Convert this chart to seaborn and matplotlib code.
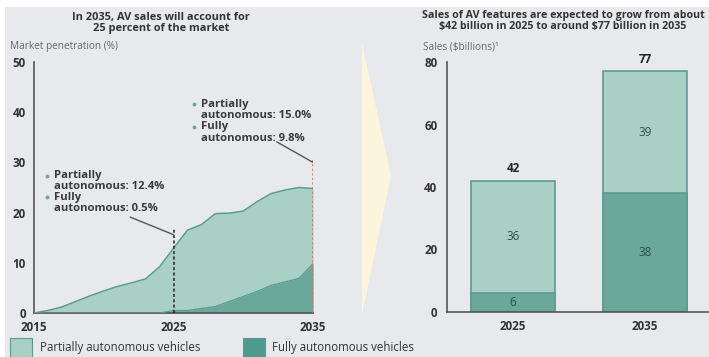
import numpy as np
import pandas as pd
import matplotlib
matplotlib.use("Agg")
import matplotlib.pyplot as plt
from matplotlib.patches import Rectangle, Polygon
import seaborn as sns

# ---------------- data ----------------
years = [2015, 2016, 2017, 2018, 2019, 2020, 2021, 2022, 2023, 2024, 2025,
         2026, 2027, 2028, 2029, 2030, 2031, 2032, 2033, 2034, 2035]
total_share = [0, 0.5, 1.2, 2.3, 3.4, 4.4, 5.3, 6.0, 6.8, 9.2, 12.9,
               16.5, 17.6, 19.8, 19.9, 20.3, 22.2, 23.8, 24.5, 25.0, 24.8]
full_share = [0, 0, 0, 0, 0, 0, 0, 0, 0, 0, 0.5,
              0.5, 0.9, 1.3, 2.3, 3.3, 4.3, 5.5, 6.2, 6.9, 9.8]

bar_years = ["2025", "2035"]
bar_full = [6, 38]
bar_partial = [36, 39]
bar_total = [42, 77]

left_ticks_x = [2015, 2025, 2035]
left_ticks_y = [0, 10, 20, 30, 40, 50]
right_ticks_y = [0, 20, 40, 60, 80]

# ---------------- style ----------------
BG = "#e8e9ec"
LIGHT = "#aacfc4"
DARK = "#6aa899"
EDGE = "#5b9b93"
TXT = "#333333"
GREY = "#666666"
sns.set_theme(style="white")
plt.rcParams["font.family"] = ["Open Sans", "DejaVu Sans"]

W, H = 709, 357
fig = plt.figure(figsize=(W / 100, H / 100), dpi=100)
fig.patch.set_facecolor("white")
fig.add_artist(Rectangle((5 / W, 0), 1, 1 - 7 / H, transform=fig.transFigure,
                         facecolor=BG, edgecolor="none", zorder=-10))

def fx(px):
    return px / W

def fy(py):
    return 1 - py / H

# chevron
fig.add_artist(Polygon([(fx(362), fy(43)), (fx(391), fy(176)), (fx(362), fy(315))],
                       closed=True, transform=fig.transFigure,
                       facecolor="#fdf4dc", edgecolor="none", zorder=-5))

# ---------------- left: area chart ----------------
axL = fig.add_axes([fx(34), fy(313), fx(313) - fx(34), fy(62) - fy(313)])
axL.set_facecolor("none")
df = pd.DataFrame({"year": years, "total": total_share, "full": full_share})
axL.fill_between(df["year"], 0, df["total"], color=LIGHT, lw=0, zorder=1)
axL.fill_between(df["year"], 0, df["full"], color=DARK, lw=0, zorder=2)
sns.lineplot(data=df, x="year", y="total", ax=axL, color=EDGE, lw=1.1, zorder=3)
sns.lineplot(data=df, x="year", y="full", ax=axL, color=EDGE, lw=0.9, zorder=3)
axL.set_xlim(2015, 2035)
axL.set_ylim(0, 50)
axL.set_xticks(left_ticks_x)
axL.set_yticks(left_ticks_y)
axL.set_xlabel("")
axL.set_ylabel("")
for s in ["top", "right"]:
    axL.spines[s].set_visible(False)
for s in ["left", "bottom"]:
    axL.spines[s].set_color("#555555")
    axL.spines[s].set_linewidth(1.2)
axL.tick_params(axis="both", length=0, labelsize=8.4, colors=TXT)
axL.tick_params(axis="x", pad=6)
axL.tick_params(axis="y", pad=6)
for lab in axL.get_xticklabels() + axL.get_yticklabels():
    lab.set_fontweight("bold")

# marker lines
axL.plot([2025, 2025], [0, 16.7], color="#222222", lw=1.1, ls=(0, (2, 1.5)), zorder=4)
axL.plot([2035, 2035], [0, 30.5], color="#e0665a", lw=1.1, ls=(0, (1.5, 1.5)), zorder=4)
axL.plot([2021.9, 2025], [19.1, 15.6], color="#555555", lw=1, zorder=4)
axL.plot([2032.4, 2035], [34.1, 30.0], color="#555555", lw=1, zorder=4)

def bullet_block(ax, xb, xt, ys, lines):
    for (bul, txt), y in zip(lines, ys):
        if bul:
            ax.plot([xb], [y], marker="o", ms=2.8, color=DARK, mec="none", zorder=5)
        ax.text(xt, y, txt, color="#3a3a3a", fontsize=8.1, va="center", ha="left",
                fontweight="bold")

bullet_block(axL, 2015.9, 2016.4, [27.3, 25.1, 23.1, 20.9],
             [(True, "Partially"), (False, "autonomous: 12.4%"),
              (True, "Fully"), (False, "autonomous: 0.5%")])
bullet_block(axL, 2026.45, 2026.95, [41.6, 39.4, 37.1, 34.7],
             [(True, "Partially"), (False, "autonomous: 15.0%"),
              (True, "Fully"), (False, "autonomous: 9.8%")])

fig.text(fx(161), fy(23), "In 2035, AV sales will account for\n25 percent of the market",
         ha="center", va="center", fontsize=7.9, fontweight="bold", color=TXT,
         linespacing=1.1)
fig.text(fx(10), fy(47), "Market penetration (%)", ha="left", va="center",
         fontsize=7.2, color=GREY)

# ---------------- right: stacked bars ----------------
axR = fig.add_axes([fx(447), fy(312), fx(711) - fx(447), fy(62) - fy(312)])
axR.set_facecolor("none")
bdf = pd.DataFrame({"year": bar_years, "total": bar_total, "full": bar_full,
                    "partial": bar_partial})
sns.barplot(data=bdf, x="year", y="total", ax=axR, color=LIGHT, width=0.64,
            edgecolor=EDGE, linewidth=1.2, saturation=1)
sns.barplot(data=bdf, x="year", y="full", ax=axR, color=DARK, width=0.64,
            edgecolor=EDGE, linewidth=1.2, saturation=1)
axR.set_xlim(-0.5, 1.5)
axR.set_ylim(0, 80)
axR.set_yticks(right_ticks_y)
axR.set_xlabel("")
axR.set_ylabel("")
for s in ["top", "right"]:
    axR.spines[s].set_visible(False)
for s in ["left", "bottom"]:
    axR.spines[s].set_color("#555555")
    axR.spines[s].set_linewidth(1.2)
axR.tick_params(axis="both", length=0, labelsize=8.4, colors=TXT)
axR.tick_params(axis="y", pad=7)
axR.tick_params(axis="x", pad=6)
for lab in axR.get_xticklabels() + axR.get_yticklabels():
    lab.set_fontweight("bold")

for i, (f, p, t) in enumerate(zip(bar_full, bar_partial, bar_total)):
    axR.text(i, f / 2, str(f), ha="center", va="center", fontsize=8.4, color="#2f4f4a")
    axR.text(i, f + p / 2, str(p), ha="center", va="center", fontsize=8.4, color="#2f4f4a")
    axR.text(i, t + 3.8, str(t), ha="center", va="center", fontsize=8.4,
             fontweight="bold", color="#222222")

fig.text(fx(563), fy(21), "Sales of AV features are expected to grow from about\n"
         "\\$42 billion in 2025 to around \\$77 billion in 2035",
         ha="center", va="center", fontsize=7.7, fontweight="bold", color=TXT,
         linespacing=1.1)
fig.text(fx(423), fy(47), "Sales (\\$billions)\u00b9", ha="left", va="center",
         fontsize=7.2, color=GREY)

# ---------------- legend ----------------
fig.add_artist(Rectangle((fx(10), fy(357)), fx(32) - fx(10), fy(338) - fy(357),
                         transform=fig.transFigure, facecolor=LIGHT, edgecolor=EDGE, lw=0.8))
fig.text(fx(40), fy(348), "Partially autonomous vehicles", ha="left", va="center",
         fontsize=8.3, color=TXT)
fig.add_artist(Rectangle((fx(243), fy(357)), fx(265) - fx(243), fy(338) - fy(357),
                         transform=fig.transFigure, facecolor="#4e9a8c", edgecolor=EDGE, lw=0.8))
fig.text(fx(272), fy(348), "Fully autonomous vehicles", ha="left", va="center",
         fontsize=8.3, color=TXT)

fig.savefig("out.png", dpi=100)
